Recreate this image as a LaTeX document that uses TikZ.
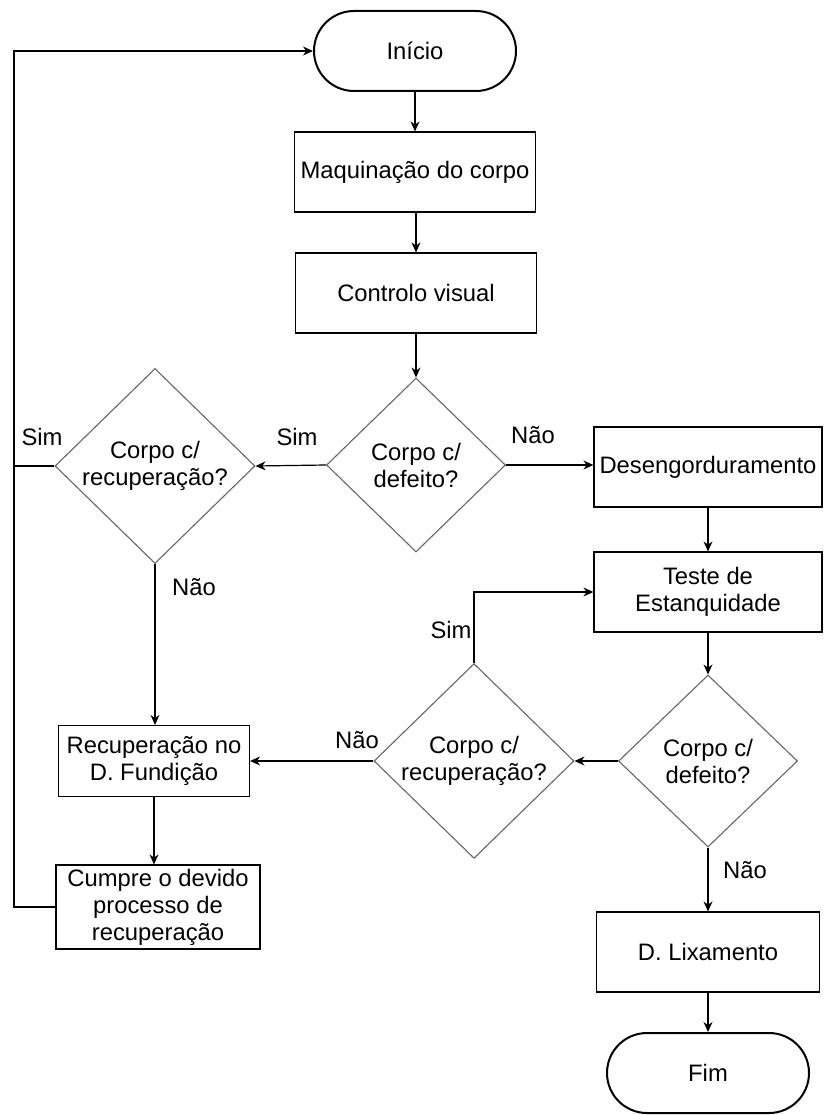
\documentclass[tikz,border=0pt]{standalone}
\usepackage{fontspec}
\setmainfont{Liberation Sans}
\usetikzlibrary{shapes.geometric,arrows.meta}
\tikzset{
  base/.style={inner sep=0pt, align=center, font=\fontsize{23.8}{27}\selectfont},
  box/.style={base, draw=black, line width=1.2pt, minimum width=#1, minimum height=80pt},
  terminal/.style={base, draw=black, line width=2pt, rounded corners=40pt, minimum width=202pt, minimum height=80pt},
  decision/.style={base, diamond, draw=black!60, line width=1.1pt, minimum width=#1},
  lbl/.style={base},
  arrow/.style={line width=1.2pt, -{Stealth[length=10pt,width=9pt]}},
  line/.style={line width=1.2pt}
}
\begin{document}
\begin{tikzpicture}[x=1pt,y=-1pt]
\useasboundingbox (0,0) rectangle (823,1115);
%\draw[help lines] (0,0) grid[step=100] (823,1115);
\node[terminal] (start) at (415,51) {Início};
\node[box=241pt] (mach) at (415,172) {Maquinação do corpo};
\node[box=241pt] (visual) at (416,293) {Controlo visual};
\node[decision=179pt, minimum height=174pt] (def1) at (416,465) {Corpo c/\\defeito?};
\node[decision=200pt, minimum height=195pt] (rec1) at (155,466) {Corpo c/\\recuperação?};
\node[box=228pt] (degrease) at (708,467) {Desengorduramento};
\node[box=228pt] (leak) at (708,592) {Teste de\\Estanquidade};
\node[decision=179pt, minimum height=172pt] (def2) at (708,761) {Corpo c/\\defeito?};
\node[decision=200pt, minimum height=193pt] (rec2) at (474,761) {Corpo c/\\recuperação?};
\node[box=191pt, minimum height=71pt] (foundry) at (154,761) {Recuperação no\\D. Fundição};
\node[box=204pt, minimum height=84pt] (cumpre) at (158,907) {Cumpre o devido\\processo de\\recuperação};
\node[box=223pt] (sand) at (708,952) {D. Lixamento};
\node[terminal] (fim) at (708,1073) {Fim};
%
\node[lbl] (sim1) at (42,437) {Sim};
\node[lbl] (sim2) at (297,437) {Sim};
\node[lbl] (nao1) at (533,435) {Não};
\node[lbl] (nao2) at (194,587) {Não};
\node[lbl] (sim3) at (451,630) {Sim};
\node[lbl] (nao3) at (357,740) {Não};
\node[lbl] (nao4) at (745,870) {Não};
%
\coordinate (loop) at (14,907);
\draw[arrow] (start) -- (mach);
\draw[arrow] (mach.south -| visual) -- (visual);
\draw[arrow] (visual) -- (def1);
\draw[arrow] (def1.west) -- (rec1.east);
\draw[arrow] (def1.east) -- (def1.east -| degrease.west);
\draw[arrow] (degrease) -- (leak);
\draw[arrow] (leak) -- (def2);
\draw[arrow] (def2.west) -- (rec2.east);
\draw[arrow] (rec2.west) -- (foundry.east);
\draw[arrow] (rec2.north) |- (leak.west);
\draw[arrow] (rec1.south) -- (rec1.south |- foundry.north);
\draw[arrow] (foundry.south) -- (foundry.south |- cumpre.north);
\draw[arrow] (def2) -- (sand);
\draw[arrow] (sand) -- (fim);
\draw[line] (rec1.west) -- (rec1.west -| loop);
\draw[arrow] (cumpre.west) -- (loop) |- (start.west);
\end{tikzpicture}
\end{document}
